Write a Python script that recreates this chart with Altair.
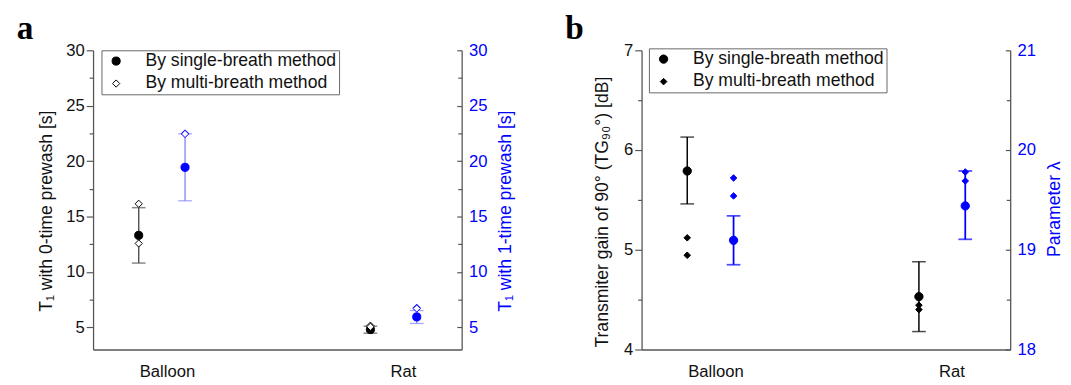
import altair as alt
import pandas as pd

groups = ["Balloon", "Rat"]
methods = ["By single-breath method", "By multi-breath method"]

# ---- panel a values (left axis: 0-time prewash, right axis: 1-time prewash) ----
a_left_mean = [13.3, 4.8]
a_left_lo = [10.8, 4.47]
a_left_hi = [15.8, 5.1]
a_left_multi = [[16.15, 12.57], [5.15, 5.05]]
a_right_mean = [19.44, 5.94]
a_right_lo = [16.42, 5.35]
a_right_hi = [22.46, 6.52]
a_right_multi = [[22.5, 22.45], [6.76, 6.7]]

# ---- panel b values (left axis: TG90, right axis: lambda) ----
b_left_mean = [5.79, 4.53]
b_left_lo = [5.46, 4.18]
b_left_hi = [6.13, 4.88]
b_left_multi = [[5.12, 4.945], [4.445, 4.40]]
b_right_mean = [19.095, 19.44]
b_right_lo = [18.85, 19.105]
b_right_hi = [19.34, 19.79]
b_right_multi = [[19.72, 19.54], [19.78, 19.69]]

a_left_ticks = [5, 10, 15, 20, 25, 30]
a_left_minor = [7.5, 12.5, 17.5, 22.5, 27.5]
a_right_ticks = [5, 10, 15, 20, 25, 30]
a_right_minor = [7.5, 12.5, 17.5, 22.5, 27.5]
b_left_ticks = [4, 5, 6, 7]
b_left_minor = [4.5, 5.5, 6.5]
b_right_ticks = [18, 19, 20, 21]
b_right_minor = [18.5, 19.5, 20.5]

FONT = "Liberation Sans"
BLUE = "#0000ff"
AXIS_GREY = "#555555"
XDOM = [0.703, 2.294]


def points_df(mean, multi):
    rows = []
    for i, g in enumerate(groups):
        rows.append(dict(group=g, gi=i + 1, method=methods[0], value=mean[i]))
    for i, g in enumerate(groups):
        for v in multi[i]:
            rows.append(dict(group=g, gi=i + 1, method=methods[1], value=v))
    return pd.DataFrame(rows)


def err_df(lo, hi):
    return pd.DataFrame(
        [dict(group=g, gi=i + 1, lo=lo[i], hi=hi[i]) for i, g in enumerate(groups)]
    )


def x_axis():
    return alt.Axis(
        values=[1.022, 2.04], labelExpr="datum.value < 1.5 ? 'Balloon' : 'Rat'",
        ticks=False, tickSize=0, grid=False, title=None, domainColor=AXIS_GREY,
        domainWidth=1.3, labelFontSize=17, labelFont=FONT, labelColor="#111111",
        labelPadding=15,
    )


def side(mean, lo, hi, multi, dom, major, minor, title, orient, off, color,
         err_color, err_w, fill_range, size_range, title_x, title_y, legend=None):
    sc = alt.Scale(domain=dom, nice=False, zero=False)
    xs = alt.Scale(domain=XDOM, nice=False, zero=False)
    xenc = alt.X("xpos:Q", scale=xs, axis=x_axis())
    calc = f"datum.gi + ({off})"
    is_left = orient == "left"
    lab_color = "#111111" if is_left else BLUE
    common = dict(orient=orient, grid=False, tickColor=AXIS_GREY, tickWidth=1.2)
    if is_left:
        major_axis = alt.Axis(
            values=major, tickSize=7, labelPadding=2, domainColor=AXIS_GREY,
            domainWidth=1.3, **common,
            labelFontSize=17, labelColor=lab_color, labelFont=FONT,
            title=title, titleFontSize=18, titleFontWeight="normal",
            titleColor=lab_color, titleAngle=270, titleX=title_x, titleY=title_y,
            titleBaseline="middle", titleAlign="center", titleFont=FONT,
        )
        minor_axis = alt.Axis(values=minor, tickSize=4, labels=False,
                              domain=False, title=None, **common)
        frame_axis = None
    else:
        # ticks pointing inward, as in the reference
        major_axis = alt.Axis(
            values=major, tickSize=5, offset=-5, labelPadding=7, domain=False,
            **common,
            labelFontSize=17, labelColor=lab_color, labelFont=FONT,
            title=title, titleFontSize=18, titleFontWeight="normal",
            titleColor=lab_color, titleAngle=270, titleX=title_x + 5,
            titleY=title_y, titleBaseline="middle", titleAlign="center",
            titleFont=FONT,
        )
        minor_axis = alt.Axis(values=minor, tickSize=4, offset=-4, labels=False,
                              domain=False, title=None, **common)
        frame_axis = alt.Axis(orient=orient, values=[], ticks=False, labels=False,
                              domain=True, domainColor=AXIS_GREY, domainWidth=1.3,
                              grid=False, title=None)
    e = err_df(lo, hi)
    rule = alt.Chart(e).transform_calculate(xpos=calc).mark_rule(
        color=err_color, strokeWidth=err_w
    ).encode(
        x=xenc,
        y=alt.Y("lo:Q", scale=sc, axis=minor_axis),
        y2="hi:Q",
    )
    caps = alt.Chart(e).transform_calculate(xpos=calc).transform_fold(
        ["lo", "hi"], as_=["end", "cap"]
    ).mark_tick(orient="horizontal", size=14, thickness=err_w, color=err_color).encode(
        x=xenc,
        y=alt.Y("cap:Q", scale=sc, axis=frame_axis),
    )
    p = points_df(mean, multi)
    pts = alt.Chart(p).transform_calculate(xpos=calc).mark_point(
        filled=True, strokeWidth=1, opacity=1
    ).encode(
        x=xenc,
        y=alt.Y("value:Q", scale=sc, axis=major_axis),
        shape=alt.Shape("method:N", scale=alt.Scale(domain=methods, range=["circle", "diamond"]), legend=legend),
        fill=alt.Fill("method:N", scale=alt.Scale(domain=methods, range=fill_range), legend=legend),
        stroke=alt.Stroke("method:N", scale=alt.Scale(domain=methods, range=[color, color]), legend=legend),
        size=alt.Size("method:N", scale=alt.Scale(domain=methods, range=size_range), legend=legend),
    )
    return [rule, caps, pts]


def make_legend(lx, ly):
    return alt.Legend(
        orient="none", legendX=lx, legendY=ly, title=None, strokeColor="#666666",
        fillColor="white", padding=2, symbolOffset=4, labelOffset=21,
        rowPadding=5, labelFontSize=18, labelFont=FONT, labelLimit=500,
        labelColor="#111111", symbolStrokeWidth=1,
    )


def letter(t):
    return alt.Chart(pd.DataFrame({"t": [t]})).mark_text(
        font="Liberation Serif", fontWeight="bold", fontSize=34, align="left",
        baseline="alphabetic", color="black",
    ).encode(text="t:N", x=alt.value(-78), y=alt.value(-12))


RES = dict(y="independent", fill="independent", shape="independent",
           size="independent", stroke="independent")

panel_a = alt.layer(
    *side(a_left_mean, a_left_lo, a_left_hi, a_left_multi, [3, 30], a_left_ticks,
          a_left_minor, "T\u2081 with 0-time prewash [s]", "left", -0.1, "black",
          "#555555", 1.5, ["black", "white"], [69, 55], -47.5, 164,
          legend=make_legend(8.6, 0)),
    *side(a_right_mean, a_right_lo, a_right_hi, a_right_multi, [3, 30], a_right_ticks,
          a_right_minor, "T\u2081 with 1-time prewash [s]", "right", 0.1, BLUE,
          "#7f7fff", 1.3, [BLUE, "white"], [69, 55], 44.5, 164),
    letter("a"),
).resolve_scale(**RES).properties(width=377, height=306)

panel_b = alt.layer(
    *side(b_left_mean, b_left_lo, b_left_hi, b_left_multi, [4, 7], b_left_ticks,
          b_left_minor, "Transmiter gain of 90\u00b0 (TG\u2089\u2080\u00b0) [dB]", "left", -0.1,
          "black", "black", 1.5, ["black", "black"], [72, 45], -39.5, 165,
          legend=make_legend(7.5, -2)),
    *side(b_right_mean, b_right_lo, b_right_hi, b_right_multi, [18, 21], b_right_ticks,
          b_right_minor, "Parameter \u03bb", "right", 0.1, BLUE,
          BLUE, 1.8, [BLUE, BLUE], [72, 45], 45, 162),
    letter("b"),
).resolve_scale(**RES).properties(width=377, height=306)

chart = alt.hconcat(panel_a, panel_b, spacing=184, bounds="flush").properties(
    padding={"left": 9, "top": 0, "right": 0, "bottom": 0}
).configure_view(stroke=None).configure_axis(labelFont=FONT, titleFont=FONT)

chart.save("out.html", embed_options={"renderer": "svg", "actions": False})
